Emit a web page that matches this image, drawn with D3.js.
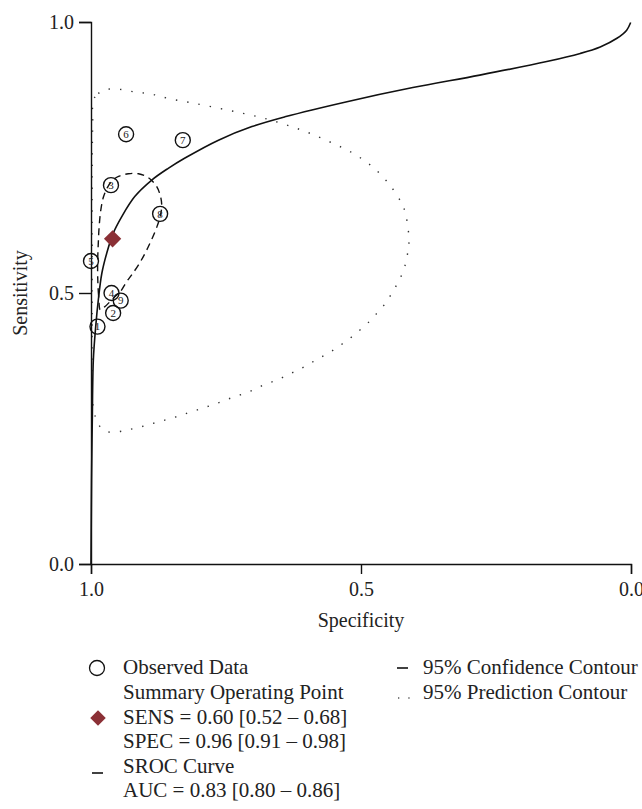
<!DOCTYPE html>
<html>
<head>
<meta charset="utf-8">
<script src="https://cdn.jsdelivr.net/npm/d3@7"></script>
<style>
  body { margin: 0; background: #fff; }
  svg text { font-family: "Liberation Serif", "Times New Roman", "DejaVu Serif", serif !important; fill: #222; }
</style>
</head>
<body>
<svg id="chart" width="642" height="809" style="font-family: 'Liberation Serif', 'Times New Roman', serif;"></svg>
<script>
const width = 642;
const height = 809;

const margin = ({top: 22, right: 11, bottom: 245, left: 91});
const serif = "'Liberation Serif', 'Times New Roman', serif";

// observed studies: [label, specificity, sensitivity]
const studies = [
  ["1", 0.988, 0.438],
  ["2", 0.959, 0.463],
  ["3", 0.963, 0.699],
  ["4", 0.962, 0.500],
  ["5", 1.000, 0.559],
  ["6", 0.935, 0.793],
  ["7", 0.830, 0.782],
  ["8", 0.872, 0.646],
  ["9", 0.945, 0.486]
];

const summaryPoint = [0.96, 0.60];

// SROC curve: [specificity, sensitivity]
const srocCurve = [
  [1.0, 0.0], [0.999, 0.155], [0.9976, 0.266], [0.9957, 0.376], [0.9913, 0.438],
  [0.9865, 0.487], [0.980, 0.536], [0.971, 0.573], [0.959, 0.610], [0.943, 0.641],
  [0.919, 0.678], [0.888, 0.708], [0.857, 0.730], [0.826, 0.749], [0.764, 0.782],
  [0.702, 0.807], [0.641, 0.825], [0.526, 0.853], [0.404, 0.879], [0.280, 0.902],
  [0.156, 0.927], [0.094, 0.942], [0.057, 0.954], [0.026, 0.970], [0.008, 0.985],
  [0.0006, 0.999]
];

// 95% confidence contour
const confContour = [
  [0.983, 0.469], [0.986, 0.496], [0.9876, 0.530], [0.9876, 0.561], [0.9865, 0.592],
  [0.985, 0.621], [0.982, 0.652], [0.977, 0.677], [0.970, 0.694], [0.961, 0.707],
  [0.949, 0.715], [0.931, 0.720], [0.912, 0.720], [0.894, 0.713], [0.880, 0.699],
  [0.872, 0.681], [0.869, 0.661], [0.872, 0.641], [0.878, 0.622], [0.888, 0.598],
  [0.900, 0.573], [0.912, 0.552], [0.925, 0.533], [0.934, 0.521], [0.946, 0.502],
  [0.956, 0.493], [0.965, 0.484], [0.974, 0.475], [0.981, 0.470]
];

// 95% prediction contour
const predContour = [
  [0.9957, 0.856], [0.9865, 0.868], [0.974, 0.875], [0.949, 0.876], [0.919, 0.871],
  [0.888, 0.867], [0.857, 0.859], [0.814, 0.851], [0.764, 0.841], [0.721, 0.832],
  [0.678, 0.822], [0.638, 0.810], [0.598, 0.796], [0.556, 0.778], [0.515, 0.758],
  [0.479, 0.733], [0.448, 0.701], [0.424, 0.664], [0.417, 0.644], [0.411, 0.597],
  [0.413, 0.578], [0.417, 0.556], [0.424, 0.535], [0.434, 0.515], [0.445, 0.496],
  [0.457, 0.478], [0.472, 0.461], [0.487, 0.445], [0.504, 0.430], [0.521, 0.416],
  [0.539, 0.403], [0.557, 0.391], [0.577, 0.380], [0.596, 0.369], [0.616, 0.358],
  [0.636, 0.349], [0.656, 0.339], [0.677, 0.332], [0.697, 0.322], [0.718, 0.314],
  [0.739, 0.307], [0.760, 0.299], [0.780, 0.292], [0.801, 0.285], [0.823, 0.278],
  [0.844, 0.271], [0.865, 0.265], [0.887, 0.259], [0.908, 0.253], [0.930, 0.248],
  [0.951, 0.244], [0.973, 0.245], [0.988, 0.260], [0.994, 0.281], [0.9976, 0.304],
  [0.998, 0.395], [0.998, 0.487], [0.998, 0.579], [0.998, 0.672], [0.9976, 0.764],
  [0.9967, 0.819]
];

const xTicks = [1.0, 0.5, 0.0];
const yTicks = [0.0, 0.5, 1.0];

const legendLeft = [
  "Observed Data",
  "Summary Operating Point",
  "SENS = 0.60 [0.52 \u2013 0.68]",
  "SPEC = 0.96 [0.91 \u2013 0.98]",
  "SROC Curve",
  "AUC = 0.83 [0.80 \u2013 0.86]"
];
const legendRight = ["95% Confidence Contour", "95% Prediction Contour"];

const x = d3.scaleLinear()
  .domain([1, 0])
  .range([margin.left, width - margin.right]);

const y = d3.scaleLinear()
  .domain([0, 1])
  .range([height - margin.bottom, margin.top]);

const svg = d3.select("#chart");

const line = d3.line()
  .x(d => x(d[0]))
  .y(d => y(d[1]));

// prediction contour (dotted)
svg.append("path")
  .datum(predContour)
  .attr("fill", "none")
  .attr("stroke", "#333")
  .attr("stroke-width", 1.4)
  .attr("stroke-dasharray", "1.4,10")
  .attr("d", line.curve(d3.curveCatmullRomClosed));

// confidence contour (dashed)
svg.append("path")
  .datum(confContour)
  .attr("fill", "none")
  .attr("stroke", "#111")
  .attr("stroke-width", 1.4)
  .attr("stroke-dasharray", "7,5")
  .attr("d", line.curve(d3.curveCatmullRomClosed));

// SROC curve
svg.append("path")
  .datum(srocCurve)
  .attr("fill", "none")
  .attr("stroke", "#111")
  .attr("stroke-width", 1.6)
  .attr("d", line.curve(d3.curveCatmullRom));

// axes
svg.append("g")
  .attr("transform", `translate(0,${y(0)})`)
  .call(d3.axisBottom(x).tickValues(xTicks).tickFormat(d3.format(".1f")).tickSize(10).tickPadding(8))
  .call(g => g.attr("font-family", serif).attr("font-size", 20))
  .call(g => g.selectAll("path, line").attr("stroke", "#111").attr("stroke-width", 1.4));

svg.append("g")
  .attr("transform", `translate(${x(1)},0)`)
  .call(d3.axisLeft(y).tickValues(yTicks).tickFormat(d3.format(".1f")).tickSize(12).tickPadding(5))
  .call(g => g.attr("font-family", serif).attr("font-size", 20))
  .call(g => g.selectAll("path, line").attr("stroke", "#111").attr("stroke-width", 1.4));

svg.append("text")
  .attr("x", (x(1) + x(0)) / 2)
  .attr("y", 620)
  .attr("dy", "0.35em")
  .attr("text-anchor", "middle")
  .attr("font-size", 20)
  .text("Specificity");

svg.append("text")
  .attr("transform", `translate(20,${(y(0) + y(1)) / 2}) rotate(-90)`)
  .attr("dy", "0.35em")
  .attr("text-anchor", "middle")
  .attr("font-size", 20)
  .text("Sensitivity");

// observed data
const pts = svg.append("g")
  .selectAll("g")
  .data(studies)
  .join("g")
  .attr("transform", d => `translate(${x(d[1])},${y(d[2])})`);

pts.append("circle")
  .attr("r", 7.5)
  .attr("fill", "none")
  .attr("stroke", "#111")
  .attr("stroke-width", 1.4);

pts.append("text")
  .attr("text-anchor", "middle")
  .attr("dy", "0.35em")
  .attr("font-size", 11)
  .text(d => d[0]);

// summary point
svg.append("path")
  .attr("d", d3.symbol(d3.symbolSquare, 150)())
  .attr("transform", `translate(${x(summaryPoint[0])},${y(summaryPoint[1])}) rotate(45)`)
  .attr("fill", "#8b3036");

// legend
const rowY = [667, 692, 717, 741, 766, 790];
svg.append("g")
  .selectAll("text")
  .data(legendLeft)
  .join("text")
  .attr("x", 123)
  .attr("y", (d, i) => rowY[i])
  .attr("dy", "0.35em")
  .attr("font-size", 21)
  .text(d => d);

svg.append("circle")
  .attr("cx", 97).attr("cy", 668).attr("r", 7.5)
  .attr("fill", "none").attr("stroke", "#111").attr("stroke-width", 1.3);

svg.append("path")
  .attr("d", d3.symbol(d3.symbolSquare, 120)())
  .attr("transform", "translate(98,718) rotate(45)")
  .attr("fill", "#8b3036");

svg.append("line")
  .attr("x1", 92).attr("x2", 103).attr("y1", 773).attr("y2", 773)
  .attr("stroke", "#111").attr("stroke-width", 1.6);

svg.append("g")
  .selectAll("text")
  .data(legendRight)
  .join("text")
  .attr("x", 423)
  .attr("y", (d, i) => rowY[i])
  .attr("dy", "0.35em")
  .attr("font-size", 21)
  .text(d => d);

svg.append("line")
  .attr("x1", 397).attr("x2", 408).attr("y1", 668).attr("y2", 668)
  .attr("stroke", "#111").attr("stroke-width", 1.6);

svg.append("line")
  .attr("x1", 398).attr("x2", 412).attr("y1", 698).attr("y2", 698)
  .attr("stroke", "#555").attr("stroke-width", 1.3)
  .attr("stroke-dasharray", "1.3,9");
</script>
</body>
</html>
